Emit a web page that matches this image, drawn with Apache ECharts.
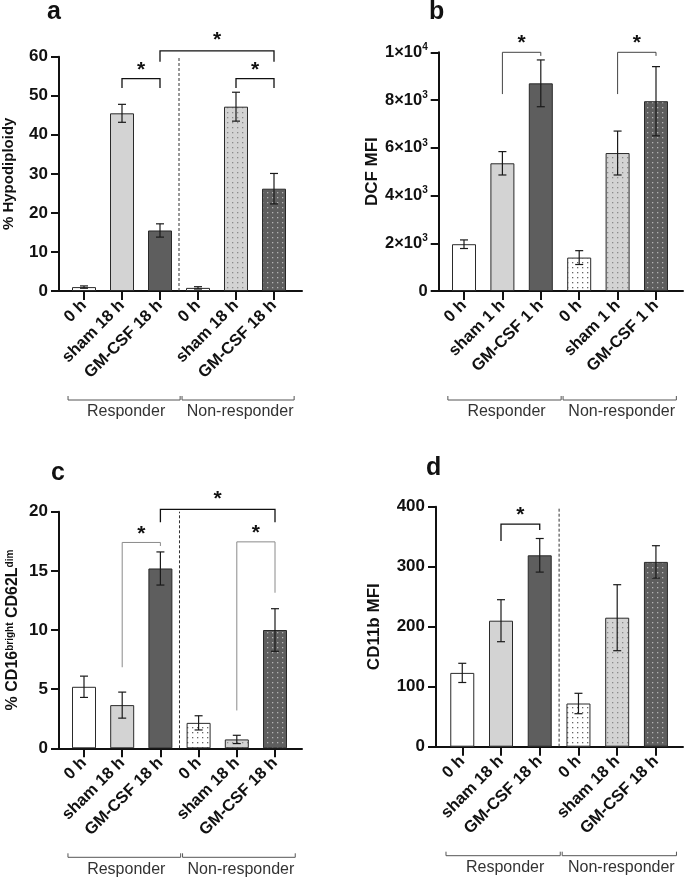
<!DOCTYPE html>
<html>
<head>
<meta charset="utf-8">
<script src="https://cdn.jsdelivr.net/npm/echarts@6/dist/echarts.min.js"></script>
<style>
  html, body { margin: 0; padding: 0; background: #fff; }
  #chart { width: 685px; height: 880px; }
</style>
</head>
<body>
<div id="chart"></div>
<script>
var cats18 = ['0 h', 'sham 18 h', 'GM-CSF 18 h', '0 h', 'sham 18 h', 'GM-CSF 18 h'];
var cats1 = ['0 h', 'sham 1 h', 'GM-CSF 1 h', '0 h', 'sham 1 h', 'GM-CSF 1 h'];
var groupNames = ['Responder', 'Non-responder'];
var groupFirst = [0, 3];
var groupLast = [2, 5];

// brackets: [from, to, top, leftEnd, rightEnd, starY]
var hypoMean = [1.0, 45.5, 15.5, 0.8, 47.2, 26.2];
var hypoErr = [0.3, 2.3, 1.7, 0.3, 3.7, 3.9];
var hypoBrackets = [[1, 2, 54.4, 52, 52, 57.9], [4, 5, 54.4, 52, 52, 57.9], [2, 5, 61.5, 58.7, 58.7, 65.6]];

var dcfMean = [1960, 5350, 8700, 1400, 5780, 7950];
var dcfErr = [180, 490, 980, 290, 920, 1450];
var dcfBrackets = [[1, 2, 10000, 8250, 9850, 10600], [4, 5, 10000, 8250, 9850, 10600]];

var cd16Mean = [5.2, 3.65, 15.2, 2.15, 0.75, 10.0];
var cd16Err = [0.9, 1.1, 1.4, 0.6, 0.35, 1.8];
var cd16Brackets = [[1, 2, 17.4, 6.85, 17.1, 18.5], [4, 5, 17.45, 3.2, 13.15, 18.6], [2, 5, 20.2, 19.1, 19.1, 21.45]];

var cd11bMean = [123, 210, 319, 72, 215, 308];
var cd11bErr = [16, 35, 28, 17, 55, 27];
var cd11bBrackets = [[1, 2, 371, 343, 361, 394]];

var FONT = 'Liberation Sans, Arial, sans-serif';

function dotPattern(bg, dot) {
    var c = document.createElement('canvas');
    c.width = 5; c.height = 5;
    var g = c.getContext('2d');
    g.fillStyle = bg; g.fillRect(0, 0, 5, 5);
    g.fillStyle = dot; g.fillRect(2, 2, 1.3, 1.3);
    return {image: c, repeat: 'repeat'};
}
var fills = ['#ffffff', '#d3d3d3', '#5e5e5e',
    dotPattern('#ffffff', '#666666'), dotPattern('#d3d3d3', '#8a8a8a'), dotPattern('#5e5e5e', '#b4b4b4')];

function expFmt(v) {
    if (v === 0) return '{m|0}';
    var e = Math.floor(Math.log10(v) + 1e-9);
    var m = Math.round(v / Math.pow(10, e));
    return '{m|' + m + '×10}{e|' + e + '}';
}

var panels = [
    {cats: cats18, mean: hypoMean, err: hypoErr, brackets: hypoBrackets, bColors: ['#111', '#111', '#111'],
        max: 60, interval: 10, sep: true, name: '% Hypodiploidy', nameSize: 15, nameGap: 43,
        frame: {left: 59, top: 56.7, width: 243, height: 234.3}, band: {left: 65, width: 228},
        letter: {text: 'a', left: 47, top: 0}},
    {cats: cats1, mean: dcfMean, err: dcfErr, brackets: dcfBrackets, bColors: ['#444', '#444'],
        max: 10000, interval: 2000, sep: false, name: 'DCF MFI', nameSize: 17, nameGap: 56, fmt: expFmt,
        frame: {left: 438.7, top: 52.3, width: 244.3, height: 238.7}, band: {left: 444.8, width: 230.4},
        letter: {text: 'b', left: 429, top: 0}},
    {cats: cats18, mean: cd16Mean, err: cd16Err, brackets: cd16Brackets, bColors: ['#8a8a8a', '#8a8a8a', '#111'],
        max: 20, interval: 5, sep: true, name: '% CD16{s|bright} CD62L{s|dim}', nameSize: 16, nameGap: 38,
        frame: {left: 59, top: 511.7, width: 243, height: 236.6}, band: {left: 64.9, width: 229.2},
        letter: {text: 'c', left: 51, top: 461}},
    {cats: cats18, mean: cd11bMean, err: cd11bErr, brackets: cd11bBrackets, bColors: ['#111'],
        max: 400, interval: 100, sep: true, name: 'CD11b MFI', nameSize: 17, nameGap: 53,
        frame: {left: 436, top: 506.7, width: 247, height: 240}, band: {left: 442.9, width: 232.4},
        letter: {text: 'd', left: 426, top: 456}}
];

function renderErr(params, api) {
    var x = api.value(0);
    var lo = api.coord([x, api.value(1)]);
    var hi = api.coord([x, api.value(2)]);
    var w = 4;
    var st = {stroke: '#1a1a1a', lineWidth: 1.2};
    return {type: 'group', children: [
        {type: 'line', shape: {x1: lo[0], y1: lo[1], x2: hi[0], y2: hi[1]}, style: st},
        {type: 'line', shape: {x1: lo[0] - w, y1: lo[1], x2: lo[0] + w, y2: lo[1]}, style: st},
        {type: 'line', shape: {x1: hi[0] - w, y1: hi[1], x2: hi[0] + w, y2: hi[1]}, style: st}
    ]};
}

function bracketRender(colors) {
    return function (params, api) {
        var a = api.value(0), b = api.value(1);
        var l = api.coord([a, api.value(3)]);
        var lt = api.coord([a, api.value(2)]);
        var rt = api.coord([b, api.value(2)]);
        var r = api.coord([b, api.value(4)]);
        var s = api.coord([a, api.value(5)]);
        var col = colors[params.dataIndex];
        return {type: 'group', children: [
            {type: 'polyline', shape: {points: [l, lt, rt, r]},
                style: {stroke: col, lineWidth: col === '#111' ? 1.3 : 1, fill: null}},
            {type: 'text', style: {text: '*', x: (lt[0] + rt[0]) / 2, y: s[1] + 5, align: 'center',
                verticalAlign: 'middle', font: 'bold 21px ' + FONT, fill: '#111'}}
        ]};
    };
}

function renderSep(params, api) {
    var bw = api.coord([1, 0])[0] - api.coord([0, 0])[0];
    var p0 = api.coord([api.value(0), api.value(1)]);
    var p1 = api.coord([api.value(0), api.value(2)]);
    var x = p0[0] + bw / 2;
    return {type: 'line', shape: {x1: x, y1: p0[1], x2: x, y2: p1[1]},
        style: {stroke: '#333', lineWidth: 1, lineDash: [3, 2]}};
}

function renderGroup(params, api) {
    var bw = api.coord([1, 0])[0] - api.coord([0, 0])[0];
    var a = api.coord([api.value(0), 0]);
    var b = api.coord([api.value(1), 0]);
    var x1 = a[0] - bw * 0.42, x2 = b[0] + bw * 0.53;
    var y = a[1] + 109;
    var st = {stroke: '#555', lineWidth: 1, fill: null};
    return {type: 'group', children: [
        {type: 'polyline', shape: {points: [[x1, y - 4], [x1, y], [x2, y], [x2, y - 4]]}, style: st},
        {type: 'text', style: {text: groupNames[params.dataIndex], x: (x1 + x2) / 2 + 2, y: y + 12,
            align: 'center', verticalAlign: 'middle', font: '16px ' + FONT, fill: '#333'}}
    ]};
}

var option = {animation: false, backgroundColor: '#fff', title: [], grid: [], xAxis: [], yAxis: [], series: []};

panels.forEach(function (p, i) {
    var fi = i * 2, bi = i * 2 + 1;
    option.title.push({text: p.letter.text, left: p.letter.left, top: p.letter.top, padding: 0,
        textStyle: {fontSize: 25, fontWeight: 'bold', fontFamily: FONT, color: '#111'}});
    option.grid.push({left: p.frame.left, top: p.frame.top, width: p.frame.width, height: p.frame.height});
    option.grid.push({left: p.band.left, top: p.frame.top, width: p.band.width, height: p.frame.height});

    option.xAxis.push({gridIndex: fi, type: 'value', min: 0, max: 1,
        axisLine: {show: true, lineStyle: {color: '#111', width: 2}},
        axisTick: {show: false}, axisLabel: {show: false}, splitLine: {show: false}});
    option.xAxis.push({gridIndex: bi, type: 'category', data: p.cats,
        axisLine: {show: false},
        axisTick: {show: true, alignWithLabel: true, length: 9, lineStyle: {color: '#111', width: 2}},
        axisLabel: {rotate: 45, margin: 12, interval: 0, fontSize: 16.5, fontWeight: 'bold',
            fontFamily: FONT, color: '#111'}});

    var yLabel = {fontSize: 17, fontWeight: 'bold', fontFamily: FONT, color: '#111', margin: 11};
    if (p.fmt) {
        yLabel.formatter = p.fmt;
        yLabel.rich = {
            m: {fontSize: 16.5, fontWeight: 'bold', fontFamily: FONT, color: '#111', lineHeight: 20},
            e: {fontSize: 10, fontWeight: 'bold', fontFamily: FONT, color: '#111', verticalAlign: 'top', lineHeight: 10}
        };
    }
    option.yAxis.push({gridIndex: fi, type: 'value', min: 0, max: p.max, interval: p.interval,
        axisLine: {show: true, lineStyle: {color: '#111', width: 2}},
        axisTick: {show: true, length: 8, lineStyle: {color: '#111', width: 2}},
        axisLabel: yLabel, splitLine: {show: false},
        name: p.name, nameLocation: 'middle', nameGap: p.nameGap,
        nameTextStyle: {fontSize: p.nameSize, fontWeight: 'bold', fontFamily: FONT, color: '#111',
            rich: {s: {fontSize: 10, fontWeight: 'bold', fontFamily: FONT, color: '#111', verticalAlign: 'top'}}}});
    option.yAxis.push({gridIndex: bi, type: 'value', min: 0, max: p.max, show: false});

    option.series.push({type: 'bar', xAxisIndex: bi, yAxisIndex: bi, barWidth: 24, silent: true,
        itemStyle: {borderColor: '#2a2a2a', borderWidth: 1},
        data: p.mean.map(function (v, k) { return {value: v, itemStyle: {color: fills[k]}}; })});
    option.series.push({type: 'custom', xAxisIndex: bi, yAxisIndex: bi, z: 3, clip: false, silent: true,
        renderItem: renderErr,
        data: p.mean.map(function (v, k) { return [k, v - p.err[k], v + p.err[k]]; })});
    option.series.push({type: 'custom', xAxisIndex: bi, yAxisIndex: bi, z: 4, clip: false, silent: true,
        renderItem: bracketRender(p.bColors), data: p.brackets});
    if (p.sep) {
        option.series.push({type: 'custom', xAxisIndex: bi, yAxisIndex: bi, z: 2, clip: false, silent: true,
            renderItem: renderSep, data: [[2, 0, p.max]]});
    }
    option.series.push({type: 'custom', xAxisIndex: bi, yAxisIndex: bi, z: 2, clip: false, silent: true,
        renderItem: renderGroup,
        data: groupFirst.map(function (f, k) { return [f, groupLast[k]]; })});
});

var chart = echarts.init(document.getElementById('chart'), null, {renderer: 'canvas'});
chart.setOption(option);
</script>
</body>
</html>
